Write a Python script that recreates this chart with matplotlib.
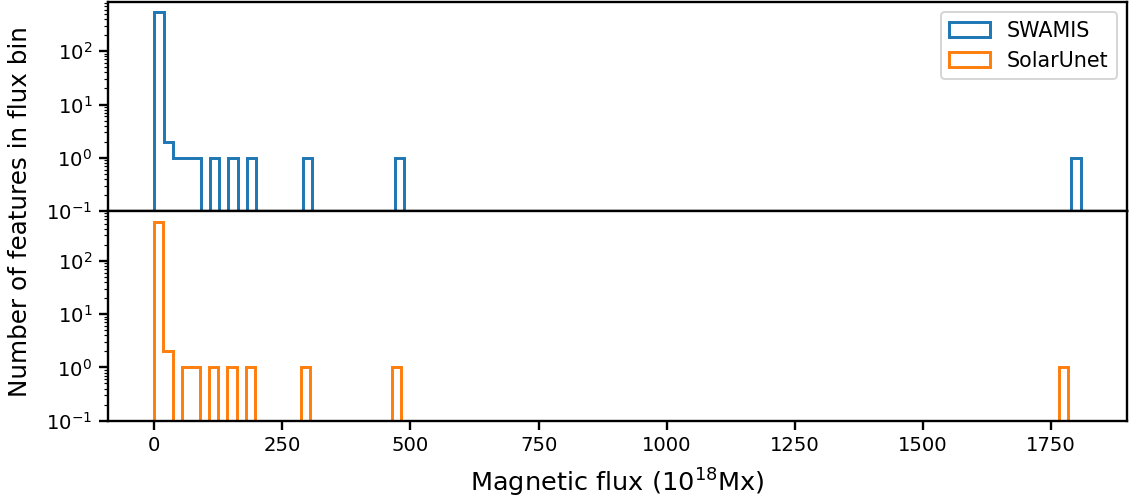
import numpy as np
import matplotlib.pyplot as plt

# histogram of magnetic flux, 100 bins each (only non-empty bins listed)
swamis_max = 1808
swamis_bins = [0, 1, 2, 3, 4, 6, 8, 10, 16, 26, 99]
swamis_counts = [540, 2, 1, 1, 1, 1, 1, 1, 1, 1, 1]

solarunet_max = 1784
solarunet_bins = [0, 1, 3, 4, 6, 8, 10, 16, 26, 99]
solarunet_counts = [540, 2, 1, 1, 1, 1, 1, 1, 1, 1]

n_bins = 100

def build(fmax, idx, vals):
    edges = np.linspace(0, fmax, n_bins + 1)
    w = np.zeros(n_bins)
    w[idx] = vals
    return edges, w

plt.rcParams['axes.linewidth'] = 1.2
plt.rcParams['xtick.major.width'] = 1.2
plt.rcParams['ytick.major.width'] = 1.2
plt.rcParams['xtick.major.size'] = 4.5
plt.rcParams['ytick.major.size'] = 4.5

fig, (ax1, ax2) = plt.subplots(2, 1, sharex=True, figsize=(8, 499 / 141.625), dpi=141.625)
fig.subplots_adjust(left=0.0953, right=0.9947, top=0.996, bottom=0.157, hspace=0)

e1, w1 = build(swamis_max, swamis_bins, swamis_counts)
e2, w2 = build(solarunet_max, solarunet_bins, solarunet_counts)

ax1.hist(e1[:-1], bins=e1, weights=w1, histtype='step', color='C0', linewidth=1.5, log=True, label='SWAMIS')
ax2.hist(e2[:-1], bins=e2, weights=w2, histtype='step', color='C1', linewidth=1.5, log=True, label='SolarUnet')

ax1.set_ylim(0.1, 830)
ax2.set_ylim(0.1, 850)
ax1.tick_params(axis='x', bottom=False, labelbottom=False)

h1, l1 = ax1.get_legend_handles_labels()
h2, l2 = ax2.get_legend_handles_labels()
ax1.legend(h1 + h2, l1 + l2, loc='upper right', fontsize=10.5)

ax2.set_xlabel('Magnetic flux ($10^{18}$Mx)', fontsize=13, labelpad=6)
fig.text(20 / 1133, 1 - 212 / 499, 'Number of features in flux bin', rotation=90,
         fontsize=12.5, ha='center', va='center')

fig.savefig('out.png')
